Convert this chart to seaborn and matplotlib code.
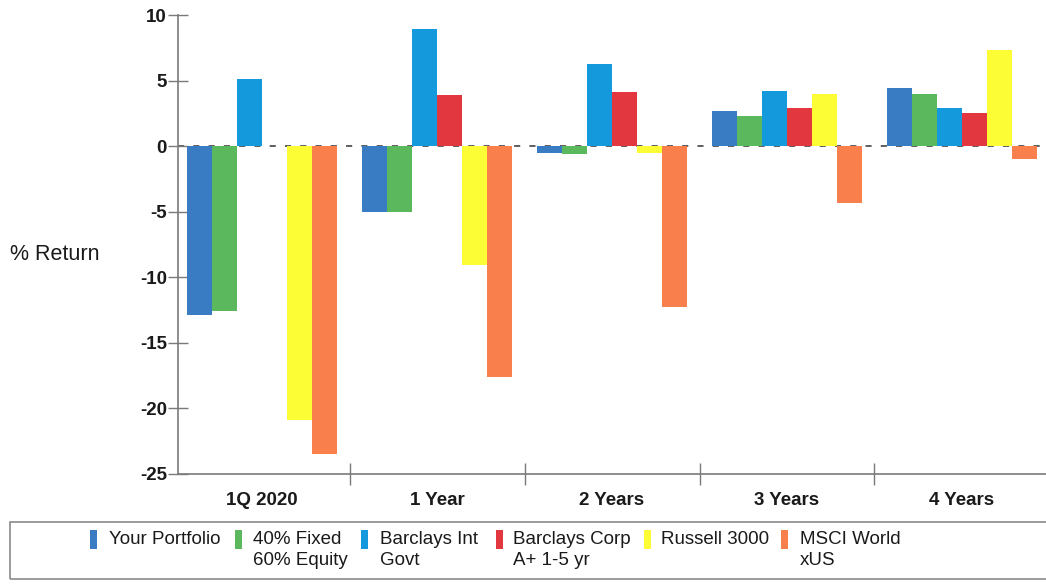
import matplotlib
matplotlib.use("Agg")
import matplotlib.pyplot as plt
from matplotlib.patches import Rectangle
from matplotlib.ticker import FixedLocator
import numpy as np
import pandas as pd
import seaborn as sns

# Periods and return series (% return)
periods = ["1Q 2020", "1 Year", "2 Years", "3 Years", "4 Years"]
series_names = ["Your Portfolio", "40% Fixed 60% Equity", "Barclays Int Govt",
                "Barclays Corp A+ 1-5 yr", "Russell 3000", "MSCI World xUS"]
legend_labels = ["Your Portfolio", "40% Fixed\n60% Equity", "Barclays Int\nGovt",
                 "Barclays Corp\nA+ 1-5 yr", "Russell 3000", "MSCI World\nxUS"]

your_portfolio = [-12.9, -5.0, -0.5, 2.7, 4.4]
fixed40_equity60 = [-12.6, -5.0, -0.6, 2.3, 4.0]
barclays_int_govt = [5.1, 8.9, 6.3, 4.2, 2.9]
barclays_corp = [0.0, 3.9, 4.1, 2.9, 2.5]
russell_3000 = [-20.9, -9.1, -0.5, 4.0, 7.3]
msci_world_xus = [-23.5, -17.6, -12.3, -4.3, -1.0]

y_ticks = [10, 5, 0, -5, -10, -15, -20, -25]

colors = ["#3a7cc4", "#5cb85c", "#1499dc", "#e2373f", "#fdfd36", "#f97f4d"]

values = [your_portfolio, fixed40_equity60, barclays_int_govt,
          barclays_corp, russell_3000, msci_world_xus]
df = pd.DataFrame({
    "period": np.tile(periods, len(series_names)),
    "series": np.repeat(series_names, len(periods)),
    "ret": np.concatenate(values),
})

sns.set_theme(style="white")
plt.rcParams["font.family"] = ["Liberation Sans", "DejaVu Sans"]

W, H = 1046, 586
fig = plt.figure(figsize=(W / 100, H / 100), dpi=100)
ax = fig.add_axes([178 / W, 1 - 474 / H, 1 - 178 / W, (474 - 15) / H])

sns.barplot(data=df, x="period", y="ret", hue="series", hue_order=series_names,
            order=periods, palette=colors, width=0.86, saturation=1,
            ax=ax, legend=False, linewidth=0)

ax.set_xlim(-0.48, 4.48)
ax.set_ylim(-25, 10)
ax.set_xlabel("")
ax.set_ylabel("")

# zero reference line
ax.axhline(0, color="#333333", lw=1.1, ls=(0, (4, 6)), zorder=0.5)

# spines
for s in ["top", "right"]:
    ax.spines[s].set_visible(False)
for s in ["left", "bottom"]:
    ax.spines[s].set_color("#7a7a7a")
    ax.spines[s].set_linewidth(1.2)

ax.set_yticks(y_ticks)
ax.set_yticklabels([str(t) for t in y_ticks], fontweight="bold")
ax.tick_params(axis="y", which="major", direction="inout", length=14,
               width=1.0, color="#7a7a7a", labelsize=13.5, pad=1,
               left=True, labelcolor="#1a1a1a")

ax.set_xticks(range(len(periods)))
ax.set_xticklabels(periods, fontweight="bold")
ax.tick_params(axis="x", which="major", length=0, labelsize=13.5, pad=13,
               labelcolor="#1a1a1a")
ax.xaxis.set_minor_locator(FixedLocator([0.5, 1.5, 2.5, 3.5]))
ax.tick_params(axis="x", which="minor", direction="inout", length=16,
               width=1.0, color="#7a7a7a", bottom=True)

fig.text(10 / W, 1 - 255 / H, "% Return", fontsize=15.5, color="#1a1a1a",
         ha="left", va="center")

# legend box
fig.patches.append(Rectangle((10 / W, 1 - 579 / H), 1.0, (579 - 522) / H,
                             transform=fig.transFigure, fill=False,
                             edgecolor="#8a8a8a", lw=1.2))
handle_x = [90, 235, 361, 496, 644, 781]
text_x = [109, 253, 380, 513, 661, 800]
for hx, tx, c, lab in zip(handle_x, text_x, colors, legend_labels):
    fig.patches.append(Rectangle((hx / W, 1 - 549 / H), 7 / W, 19 / H,
                                 transform=fig.transFigure, color=c, lw=0))
    fig.text(tx / W, 1 - 531 / H, lab, fontsize=13.5, color="#1a1a1a",
             ha="left", va="top", linespacing=1.33)

fig.savefig("out.png", dpi=100)
